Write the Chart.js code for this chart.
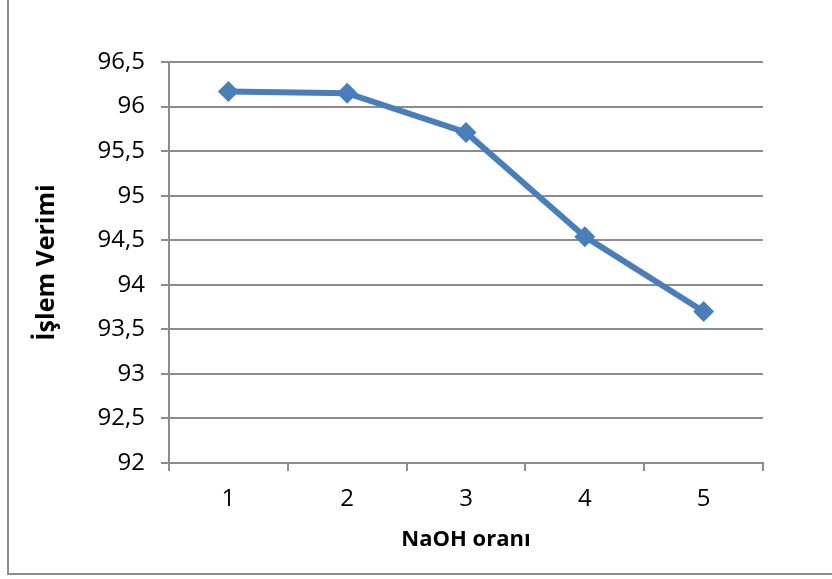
<!DOCTYPE html>
<html>
<head>
<meta charset="utf-8">
<script src="https://cdn.jsdelivr.net/npm/chart.js@4.4.0/dist/chart.umd.min.js"></script>
<style>
  html, body { margin: 0; padding: 0; background: #ffffff; }
  #wrap { position: relative; width: 832px; height: 579px; }
</style>
</head>
<body>
<div id="wrap"><canvas id="c" width="832" height="579"></canvas></div>
<script>
const categories = ['1', '2', '3', '4', '5'];
const verim = [96.17, 96.15, 95.71, 94.54, 93.70];
const yMin = 92;
const yMax = 96.5;
const yStep = 0.5;
const xTitle = 'NaOH oranı';
const yTitle = 'İşlem Verimi';

const FONT = '"Open Sans", Lato, "Liberation Sans", sans-serif';

const frame = {
  id: 'frame',
  beforeDraw(chart) {
    const ctx = chart.ctx;
    ctx.save();
    ctx.strokeStyle = '#8c8c8c';
    ctx.lineWidth = 2;
    ctx.beginPath();
    ctx.moveTo(8, 0);
    ctx.lineTo(8, 574);
    ctx.lineTo(832, 574);
    ctx.stroke();
    ctx.restore();
  }
};

new Chart(document.getElementById('c'), {
  type: 'line',
  data: {
    labels: categories,
    datasets: [{
      data: verim,
      borderColor: '#4a7ebb',
      backgroundColor: '#4a7ebb',
      borderWidth: 6,
      pointStyle: 'rectRot',
      pointRadius: 10.5,
      pointHoverRadius: 10.5,
      pointBorderWidth: 0,
      tension: 0
    }]
  },
  options: {
    responsive: false,
    animation: false,
    layout: { padding: { top: 62, right: 69, left: 0, bottom: 0 } },
    plugins: { legend: { display: false }, tooltip: { enabled: false } },
    scales: {
      x: {
        offset: true,
        grid: { offset: true, drawOnChartArea: false, drawTicks: true, tickLength: 8, color: '#8c8c8c', lineWidth: 2 },
        border: { color: '#8c8c8c', width: 2 },
        ticks: { color: '#000', font: { family: FONT, size: 24 }, padding: 14 },
        title: { display: true, text: xTitle, color: '#000', font: { family: FONT, size: 22, weight: 'bold' }, padding: { top: 0, bottom: 26 } },
        afterFit(scale) { scale.height = 116; }
      },
      y: {
        min: yMin,
        max: yMax,
        grid: { color: '#8c8c8c', lineWidth: 2, drawTicks: true, tickLength: 8 },
        border: { color: '#8c8c8c', width: 2 },
        ticks: {
          stepSize: yStep,
          color: '#000',
          font: { family: FONT, size: 24 },
          padding: 16,
          callback: (v) => String(v).replace('.', ',')
        },
        title: { display: true, text: yTitle, color: '#000', font: { family: FONT, size: 25, weight: 'bold' }, padding: { top: 32, bottom: 0 } },
        afterFit(scale) { scale.width = 169; }
      }
    }
  },
  plugins: [frame]
});
</script>
</body>
</html>
